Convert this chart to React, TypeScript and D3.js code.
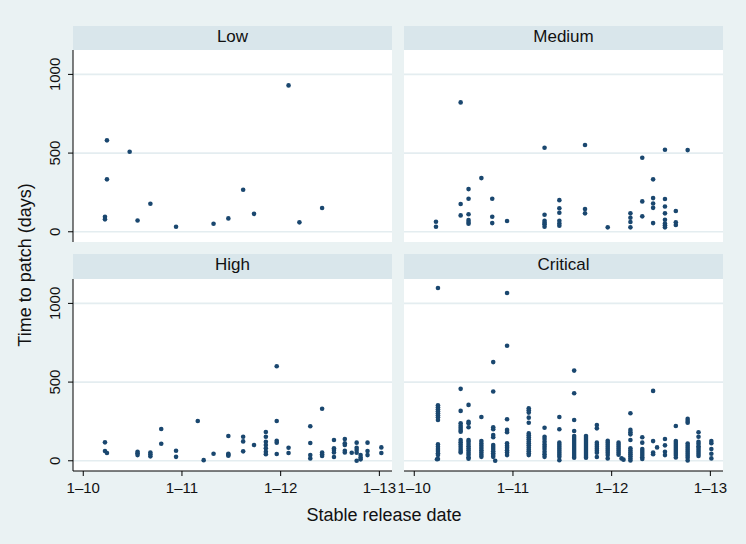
import * as d3 from "d3";

// Time to patch (days) against stable release date (decimal year), per severity
const lowPoints: [number, number][] = [
  [2010.24, 581], [2010.24, 333], [2010.22, 95], [2010.22, 79], [2010.47, 508],
  [2010.55, 72], [2010.68, 178], [2010.94, 32], [2011.32, 51], [2011.47, 85],
  [2011.62, 267], [2011.73, 114], [2012.08, 930], [2012.19, 60], [2012.42, 151],
];

const mediumPoints: [number, number][] = [
  [2010.22, 64], [2010.22, 32],
  [2010.47, 822], [2010.47, 176], [2010.47, 104],
  [2010.55, 271], [2010.55, 210], [2010.55, 111], [2010.55, 74], [2010.55, 62], [2010.55, 51],
  [2010.68, 341],
  [2010.79, 210], [2010.79, 95], [2010.79, 55],
  [2010.94, 68],
  [2011.32, 534], [2011.32, 108], [2011.32, 70], [2011.32, 57], [2011.32, 47], [2011.32, 32],
  [2011.47, 201], [2011.47, 149], [2011.47, 121], [2011.47, 70], [2011.47, 53], [2011.47, 38],
  [2011.73, 551], [2011.73, 144], [2011.73, 117],
  [2011.96, 28],
  [2012.19, 117], [2012.19, 89], [2012.19, 62], [2012.19, 28],
  [2012.31, 470], [2012.31, 193], [2012.31, 98],
  [2012.42, 333], [2012.42, 214], [2012.42, 180], [2012.42, 152], [2012.42, 55],
  [2012.54, 521], [2012.54, 208], [2012.54, 161], [2012.54, 117], [2012.54, 76],
  [2012.54, 53], [2012.54, 41], [2012.54, 28],
  [2012.65, 132], [2012.65, 60], [2012.65, 43],
  [2012.77, 519],
];

const highPoints: [number, number][] = [
  [2010.22, 117], [2010.22, 62], [2010.24, 49],
  [2010.55, 57], [2010.55, 47], [2010.55, 36],
  [2010.68, 53], [2010.68, 41], [2010.68, 28],
  [2010.79, 202], [2010.79, 108],
  [2010.94, 64], [2010.94, 25],
  [2011.16, 253], [2011.22, 4], [2011.32, 45],
  [2011.47, 157], [2011.47, 45], [2011.47, 39], [2011.47, 32],
  [2011.62, 153], [2011.62, 123], [2011.62, 60],
  [2011.73, 100],
  [2011.85, 183], [2011.85, 153], [2011.85, 121], [2011.85, 100], [2011.85, 79], [2011.85, 57], [2011.85, 41],
  [2011.96, 601], [2011.96, 253], [2011.96, 127], [2011.96, 115], [2011.96, 43],
  [2012.08, 83], [2012.08, 49],
  [2012.30, 219], [2012.30, 113], [2012.30, 36], [2012.30, 15],
  [2012.42, 331], [2012.42, 53], [2012.42, 41], [2012.42, 30],
  [2012.54, 132], [2012.54, 79], [2012.54, 68], [2012.54, 53], [2012.54, 24],
  [2012.65, 138], [2012.65, 111], [2012.65, 100], [2012.65, 64], [2012.65, 53],
  [2012.72, 51],
  [2012.77, 115], [2012.77, 83], [2012.77, 68], [2012.77, 51], [2012.77, 0],
  [2012.81, 36], [2012.81, 21], [2012.81, 9],
  [2012.88, 115], [2012.88, 62], [2012.88, 36],
  [2013.02, 85], [2013.02, 49],
];

// critical: one entry per release date with all the days values at that date
const criticalGroups: [number, number[]][] = [
  [2010.24, [1098, 353, 340, 327, 315, 302, 289, 276, 259, 104, 89, 75, 62, 47, 36, 11]],
  [2010.23, [10]],
  [2010.47, [457, 317, 238, 223, 210, 196, 185, 132, 117, 103, 89, 75, 62, 53]],
  [2010.55, [355, 248, 238, 213, 132, 121, 107, 92, 78, 65, 51, 38, 23, 13]],
  [2010.68, [278, 125, 110, 95, 81, 67, 53, 38, 25]],
  [2010.80, [627, 440, 213, 200, 164, 149, 100, 87, 74, 61, 48, 36, 25]],
  [2010.82, [0]],
  [2010.94, [1066, 731, 264, 196, 181, 111, 96, 83, 67, 53, 36]],
  [2011.16, [334, 321, 306, 274, 242, 174, 162, 149, 136, 123, 111, 98, 85, 72, 60, 47, 36]],
  [2011.32, [210, 153, 138, 121, 104, 89, 75, 57, 41, 25]],
  [2011.47, [278, 200, 115, 102, 89, 76, 64, 51, 38, 25, 4]],
  [2011.62, [573, 429, 259, 189, 157, 145, 132, 119, 106, 94, 81, 68, 55, 43, 30, 19]],
  [2011.74, [157, 145, 132, 119, 106, 94, 81, 68, 55, 43, 30, 19]],
  [2011.85, [227, 206, 115, 102, 89, 76, 64, 51, 24]],
  [2011.96, [127, 115, 102, 89, 76, 64, 51, 36, 15]],
  [2012.07, [115, 102, 89, 76, 64, 51, 38]],
  [2012.10, [15]],
  [2012.12, [7]],
  [2012.19, [302, 196, 181, 168, 132, 79, 66, 53, 41, 28, 15, 2]],
  [2012.31, [149, 115, 75, 62, 49, 36, 23, 11]],
  [2012.42, [444, 125, 53, 41]],
  [2012.46, [85]],
  [2012.54, [138, 98, 57, 36]],
  [2012.65, [221, 125, 113, 100, 87, 74, 62, 49, 36, 21]],
  [2012.77, [266, 253, 242, 109, 96, 83, 70, 57, 45, 32, 19, 2]],
  [2012.88, [181, 153, 121, 108, 93, 81, 68, 55, 43, 30]],
  [2013.01, [125, 111, 75, 45, 15]],
];
const criticalPoints: [number, number][] = criticalGroups.flatMap(([d, vs]) =>
  vs.map((v) => [d, v] as [number, number])
);

const yTicks = [0, 500, 1000];
const xTicks = [2010, 2011, 2012, 2013];
const xTickLabels = ["1–10", "1–11", "1–12", "1–13"];

const panels = [
  { title: "Low", points: lowPoints, col: 0, row: 0 },
  { title: "Medium", points: mediumPoints, col: 1, row: 0 },
  { title: "High", points: highPoints, col: 0, row: 1 },
  { title: "Critical", points: criticalPoints, col: 1, row: 1 },
];

const W = 746;
const H = 544;
const cols = [
  [73, 392],
  [404, 723],
];
const rows = [
  { head: 26, top: 50, bottom: 242 },
  { head: 254, top: 279, bottom: 471 },
];

const BG = "#eaf2f3";
const STRIP = "#d9e6eb";
const GRID = "#e4edf0";
const DOT = "#1a476f";
const FONT = "'Liberation Sans', Arial, Helvetica, sans-serif";

export default function App() {
  return (
    <svg
      width={W}
      height={H}
      style={{ position: "absolute", left: 0, top: 0, display: "block" }}
      fontFamily={FONT}
    >
      <rect x={0} y={0} width={W} height={H} fill={BG} />
      {panels.map((p) => {
        const [x0, x1] = cols[p.col];
        const r = rows[p.row];
        const x = d3.scaleLinear().domain([2009.896, 2013.128]).range([x0, x1]);
        const y = d3.scaleLinear().domain([-65, 1155]).range([r.bottom, r.top]);
        return (
          <g key={p.title}>
            <rect x={x0} y={r.head} width={x1 - x0} height={r.top - r.head} fill={STRIP} />
            <text x={(x0 + x1) / 2} y={r.head + 16} textAnchor="middle" fontSize={17} fill="#111">
              {p.title}
            </text>
            <rect x={x0} y={r.top} width={x1 - x0} height={r.bottom - r.top} fill="#fff" />
            {yTicks.map((t) => (
              <line key={t} x1={x0} x2={x1} y1={y(t)} y2={y(t)} stroke={GRID} strokeWidth={1.6} />
            ))}
            {p.points.map(([d, v], i) => (
              <circle key={i} cx={x(d)} cy={y(v)} r={2.3} fill={DOT} />
            ))}
            {p.col === 0 && (
              <g>
                <line x1={x0} x2={x0} y1={r.top} y2={r.bottom} stroke="#000" strokeWidth={1} />
                {yTicks.map((t) => (
                  <g key={t}>
                    <line x1={x0 - 5} x2={x0} y1={y(t)} y2={y(t)} stroke="#000" strokeWidth={1} />
                    <text
                      transform={`translate(${x0 - 13},${y(t)}) rotate(-90)`}
                      textAnchor="middle"
                      fontSize={15}
                      fill="#111"
                    >
                      {t}
                    </text>
                  </g>
                ))}
              </g>
            )}
            {p.row === 1 && (
              <g>
                <line x1={x0} x2={x1} y1={r.bottom} y2={r.bottom} stroke="#000" strokeWidth={1} />
                {xTicks.map((t, i) => (
                  <g key={t}>
                    <line x1={x(t)} x2={x(t)} y1={r.bottom} y2={r.bottom + 5} stroke="#000" strokeWidth={1} />
                    <text x={x(t)} y={r.bottom + 21.5} textAnchor="middle" fontSize={15} fill="#111">
                      {xTickLabels[i]}
                    </text>
                  </g>
                ))}
              </g>
            )}
          </g>
        );
      })}
      <text
        transform="translate(31,265) rotate(-90)"
        textAnchor="middle"
        fontSize={18}
        fill="#111"
      >
        Time to patch (days)
      </text>
      <text x={384} y={521} textAnchor="middle" fontSize={18} fill="#111">
        Stable release date
      </text>
    </svg>
  );
}
